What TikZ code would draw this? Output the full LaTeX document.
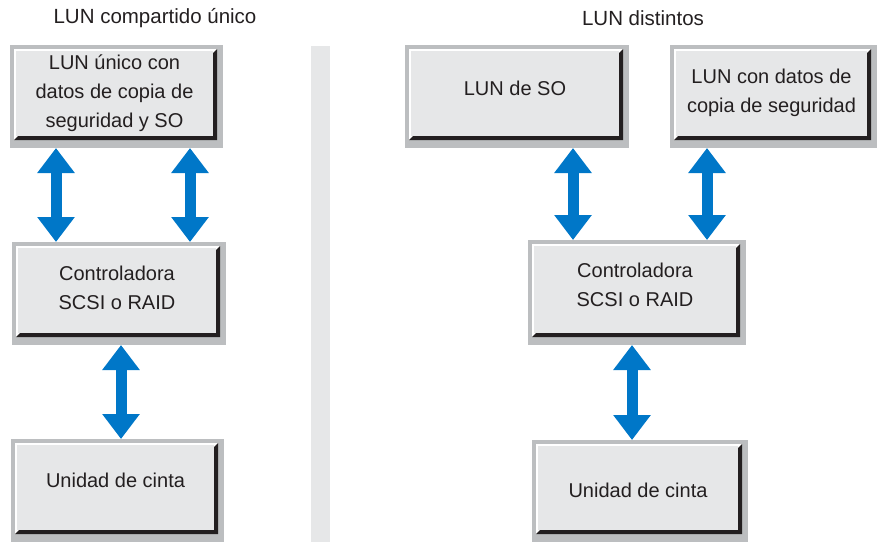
\documentclass[tikz,border=0pt]{standalone}
\usepackage{fontspec}
\setmainfont{Liberation Sans}
\usetikzlibrary{arrows.meta,calc}
\definecolor{framegray}{HTML}{BCBEC0}
\definecolor{panelgray}{HTML}{E6E7E8}
\definecolor{shadowblack}{HTML}{231F20}
\definecolor{arrowblue}{HTML}{0077C8}
\tikzset{
  boxlabel/.style={inner sep=0pt, align=center, text=shadowblack,
    font=\fontsize{20}{29}\selectfont},
  titlelabel/.style={inner sep=0pt, text=shadowblack, font=\fontsize{20.5}{24}\selectfont},
  dblarrow/.style={draw=arrowblue, line width=11pt,
    {Triangle[width=36pt,length=25pt]}-{Triangle[width=36pt,length=25pt]}},
}
% #1 name, #2 x1, #3 y1, #4 x2, #5 y2 (outer frame), #6 text lift, #7 text
\newcommand\bevbox[7]{%
  \fill[framegray] (#2,#3) rectangle (#4,#5);
  \fill[white] (#2+4,#3+4) rectangle (#4-6,#5-8);
  \fill[shadowblack] (#4-6,#3+4) -- (#4-6,#5-8) -- (#2+4,#5-8) -- (#2+8,#5-12)
     -- (#4-10,#5-12) -- (#4-10,#3+8) -- cycle;
  \fill[panelgray] (#2+6,#3+6) rectangle (#4-10,#5-12);
  \node[boxlabel] (#1) at ({(#2+#4)/2-2},{(#3+#5)/2-3-#6}) {#7};
  \coordinate (#1-top) at ({(#2+#4)/2},#3);
  \coordinate (#1-bot) at ({(#2+#4)/2},#5);
}
\begin{document}
\begin{tikzpicture}[x=1pt,y=-1pt]
\useasboundingbox (0,0) rectangle (877,542);
% titles
\node[titlelabel] (t1) at (155,18) {LUN compartido único};
\node[titlelabel] (t2) at (643,18) {LUN distintos};
% separator
\fill[panelgray] (311,46) rectangle (330,542);
% left column
\bevbox{lun1}{10}{45}{223}{148}{0}{LUN único con\\datos de copia de\\seguridad y SO}
\bevbox{ctl1}{12}{242}{226}{345}{3}{Controladora\\SCSI o RAID}
\bevbox{tape1}{11}{439}{224}{542}{7}{Unidad de cinta}
% right column
\bevbox{lunso}{405}{45}{629}{148}{5}{LUN de SO}
\bevbox{lunbk}{670}{45}{877}{148}{1}{LUN con datos de\\copia de seguridad}
\bevbox{ctl2}{528}{240}{746}{345}{5}{Controladora\\SCSI o RAID}
\bevbox{tape2}{532}{440}{748}{542}{-2}{Unidad de cinta}
% arrow columns
\coordinate (ax1) at (56,0);
\coordinate (ax2) at (190,0);
\coordinate (ax3) at (121,0);
\coordinate (ax4) at (573,0);
\coordinate (ax5) at (707,0);
\coordinate (ax6) at (632,0);
\draw[dblarrow] (lun1-bot -| ax1) -- (ctl1-top -| ax1);
\draw[dblarrow] (lun1-bot -| ax2) -- (ctl1-top -| ax2);
\draw[dblarrow] (ctl1-bot -| ax3) -- (tape1-top -| ax3);
\draw[dblarrow] (lunso-bot -| ax4) -- (ctl2-top -| ax4);
\draw[dblarrow] (lunbk-bot -| ax5) -- (ctl2-top -| ax5);
\draw[dblarrow] (ctl2-bot -| ax6) -- (tape2-top -| ax6);
\end{tikzpicture}
\end{document}
